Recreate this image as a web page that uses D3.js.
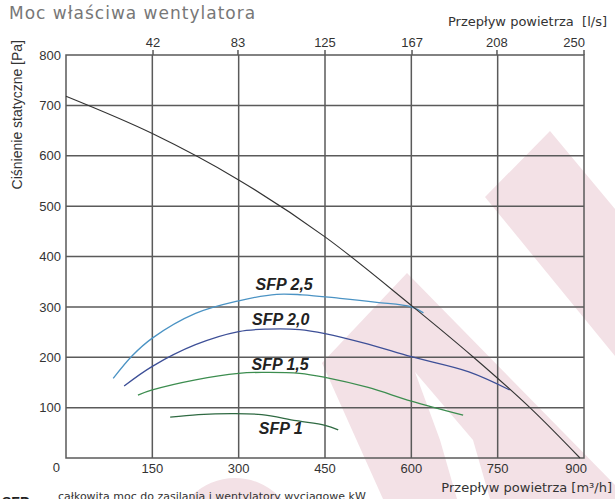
<!DOCTYPE html>
<html>
<head>
<meta charset="utf-8">
<script src="https://cdn.jsdelivr.net/npm/d3@7"></script>
<style>
	body { margin: 0; background: #fff; }
	svg { display: block; }
	.tick-label { font-family: "Liberation Sans", Arial, sans-serif; font-size: 13px; fill: #333; }
	.axis-title { font-family: "DejaVu Sans", sans-serif; font-size: 13px; fill: #333; }
	.sfp-label { font-family: "Liberation Sans", Arial, sans-serif; font-size: 16px; font-weight: bold; font-style: italic; fill: #222; }
	.grid line, .grid rect { stroke: #5a5a5a; stroke-width: 1.5; fill: none; }
</style>
</head>
<body>
<svg id="chart" width="615" height="499"></svg>
<script>
	//DATA
	var flowTicks = [150, 300, 450, 600, 750, 900];          // m3/h
	var flowLsTicks = [42, 83, 125, 167, 208, 250];         // l/s
	var pressureTicks = [100, 200, 300, 400, 500, 600, 700, 800];

	// fan curve, [m3/h, Pa]
	var fanCurve = [[0, 718], [150, 644], [300, 552], [450, 439], [603, 300], [708, 200], [806, 100], [893, 0]];

	// SFP curves, [m3/h, Pa]
	var sfp25 = [[82, 158], [115, 203], [150, 238], [225, 287], [300, 312], [366, 325], [410, 324],
		[476, 317], [540, 309], [600, 300], [621, 288]];
	var sfp20 = [[101, 143], [150, 182], [225, 225], [300, 251], [350, 256], [406, 255], [450, 247],
		[525, 226], [600, 201], [700, 171], [771, 135]];
	var sfp15 = [[125, 125], [150, 135], [225, 155], [300, 168], [340, 170], [406, 168], [450, 160],
		[525, 140], [600, 113], [690, 85]];
	var sfp10 = [[181, 81], [230, 86], [290, 88], [340, 86], [400, 74], [450, 65], [473, 56]];

	var sfpNames = ["SFP 2,5", "SFP 2,0", "SFP 1,5", "SFP 1"];
	var sfpLabelAt = [[379, 333], [373, 264], [372, 175], [373, 48]];   // label anchor in chart units
	var sfpColors = ["#4b93c4", "#3d4f97", "#3c8d4f", "#2f6a42"];

	(function () {
		//SETUP
		var svg = d3.select("#chart");
		var mLeft = 66, mRight = 584, mTop = 55, mBottom = 458;

		var x = d3.scaleLinear().domain([0, 900]).range([mLeft, mRight]);
		var xLs = d3.scaleLinear().domain([0, 250]).range([mLeft, mRight]);
		var y = d3.scaleLinear().domain([0, 800]).range([mBottom, mTop]);

		drawWatermark();
		drawGrid();
		drawCurves();
		drawTexts();

		function drawWatermark() {
			var pink = "#f3e1e6";
			var wm = svg.append("g").attr("class", "watermark");
			wm.append("circle").attr("cx", 235).attr("cy", 540).attr("r", 62).style("fill", pink);
			var shapes = [
				[[550, 131], [620, 215], [620, 362], [485, 197]],
				[[407, 273], [322, 363], [383, 499], [620, 499], [620, 490]]
			];
			wm.selectAll("polygon.pink").data(shapes).enter().append("polygon")
				.attr("class", "pink")
				.attr("points", function (d) { return d.join(" ") })
				.style("fill", pink);
			// white notch inside the lower stripe
			wm.append("polygon")
				.attr("points", [[415, 372], [440, 440], [457, 499], [490, 499], [473, 440]].join(" "))
				.style("fill", "#fff");
		}

		function drawGrid() {
			var g = svg.append("g").attr("class", "grid");
			g.selectAll("line.v").data(flowTicks.slice(0, -1)).enter().append("line")
				.attr("x1", function (d) { return x(d) }).attr("x2", function (d) { return x(d) })
				.attr("y1", mTop).attr("y2", mBottom);
			g.selectAll("line.h").data(pressureTicks.slice(0, -1)).enter().append("line")
				.attr("x1", mLeft).attr("x2", mRight)
				.attr("y1", function (d) { return y(d) }).attr("y2", function (d) { return y(d) });
			// little ticks above the top border
			g.selectAll("line.t").data(flowLsTicks).enter().append("line")
				.attr("x1", function (d) { return xLs(d) }).attr("x2", function (d) { return xLs(d) })
				.attr("y1", mTop - 5).attr("y2", mTop);
			g.append("rect").attr("x", mLeft).attr("y", mTop)
				.attr("width", mRight - mLeft).attr("height", mBottom - mTop);
		}

		function drawCurves() {
			var line = d3.line()
				.x(function (d) { return x(d[0]) })
				.y(function (d) { return y(d[1]) })
				.curve(d3.curveCatmullRom.alpha(0.5));

			var series = [sfp25, sfp20, sfp15, sfp10];
			svg.selectAll("path.sfp").data(series).enter().append("path")
				.attr("class", "sfp")
				.attr("d", line)
				.style("fill", "none")
				.style("stroke", function (d, i) { return sfpColors[i] })
				.style("stroke-width", 1.3);

			svg.append("path").datum(fanCurve)
				.attr("d", line)
				.style("fill", "none")
				.style("stroke", "#333")
				.style("stroke-width", 1.1);

			svg.selectAll("text.sfp-label").data(sfpNames).enter().append("text")
				.attr("class", "sfp-label")
				.attr("x", function (d, i) { return x(sfpLabelAt[i][0]) })
				.attr("y", function (d, i) { return y(sfpLabelAt[i][1]) })
				.attr("text-anchor", "middle")
				.text(function (d) { return d });
		}

		function drawTexts() {
			// left axis
			svg.selectAll("text.ylab").data(pressureTicks).enter().append("text")
				.attr("class", "tick-label ylab")
				.attr("x", mLeft - 5)
				.attr("y", function (d) { return y(d) })
				.attr("dy", "0.36em")
				.attr("text-anchor", "end")
				.text(function (d) { return d });
			svg.append("text").attr("class", "tick-label")
				.attr("x", mLeft - 6).attr("y", 472).attr("text-anchor", "end").text("0");

			// bottom axis
			svg.selectAll("text.xlab").data(flowTicks).enter().append("text")
				.attr("class", "tick-label xlab")
				.attr("x", function (d, i) { return i === flowTicks.length - 1 ? x(d) + 3 : x(d) })
				.attr("y", 473)
				.attr("text-anchor", function (d, i) { return i === flowTicks.length - 1 ? "end" : "middle" })
				.text(function (d) { return d });

			// top axis
			svg.selectAll("text.tlab").data(flowLsTicks).enter().append("text")
				.attr("class", "tick-label tlab")
				.attr("x", function (d, i) { return i === flowLsTicks.length - 1 ? xLs(d) + 1 : xLs(d) })
				.attr("y", 47)
				.attr("text-anchor", function (d, i) { return i === flowLsTicks.length - 1 ? "end" : "middle" })
				.text(function (d) { return d });

			svg.append("text").attr("class", "axis-title")
				.attr("x", 607).attr("y", 26).attr("text-anchor", "end")
				.style("white-space", "pre")
				.text("Przepływ powietrza  [l/s]");
			svg.append("text").attr("class", "axis-title")
				.attr("x", 612).attr("y", 492).attr("text-anchor", "end")
				.text("Przepływ powietrza [m³/h]");
			svg.append("text").attr("class", "tick-label")
				.attr("transform", "translate(22,40) rotate(-90)")
				.attr("text-anchor", "end")
				.style("font-size", "14px")
				.text("Ciśnienie statyczne [Pa]");

			// title
			svg.append("text")
				.attr("x", 9).attr("y", 18.5)
				.style("font-family", "'DejaVu Sans', sans-serif")
				.style("font-size", "17px")
				.style("letter-spacing", "1px")
				.style("fill", "#777")
				.text("Moc właściwa wentylatora");

			// footnote, cut at the bottom edge
			svg.append("text")
				.attr("x", 2).attr("y", 507)
				.style("font-family", "'Liberation Sans', Arial, sans-serif")
				.style("font-size", "14px").style("font-weight", "bold").style("fill", "#222")
				.text("SFP");
			svg.append("text")
				.attr("x", 58).attr("y", 499.5)
				.style("font-family", "'DejaVu Sans', sans-serif")
				.style("font-size", "11px").style("fill", "#333")
				.text("całkowita moc do zasilania i wentylatory wyciągowe kW");
		}
	})();
</script>
</body>
</html>
